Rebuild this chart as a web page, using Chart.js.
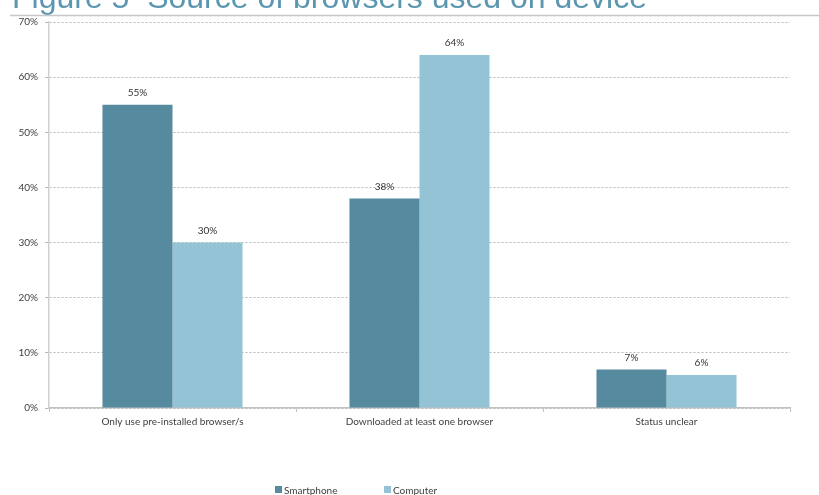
<!DOCTYPE html>
<html>
<head>
<meta charset="utf-8">
<script src="https://cdn.jsdelivr.net/npm/chart.js@4/dist/chart.umd.min.js"></script>
<style>
  html, body { margin: 0; padding: 0; background: #ffffff; overflow: hidden; }
  #wrap { position: relative; width: 819px; height: 495px; }
  canvas { display: block; }
</style>
</head>
<body>
<div id="wrap"><canvas id="c" width="819" height="495"></canvas></div>
<script>
// Source of browsers used on device, share of respondents (%)
const categories = [
  'Only use pre-installed browser/s',
  'Downloaded at least one browser',
  'Status unclear'
];
const smartphone = [55, 38, 7];
const computer = [30, 64, 6];
const seriesNames = ['Smartphone', 'Computer'];
const yTicks = [0, 10, 20, 30, 40, 50, 60, 70];
const titleText = 'Figure 5  Source of browsers used on device';

const labelFont = "Lato, 'Open Sans', sans-serif";
const textColor = '#404040';

// Title across the top with a rule underneath
const titlePlugin = {
  id: 'figureTitle',
  beforeDraw(chart) {
    const ctx = chart.ctx;
    ctx.save();
    ctx.fillStyle = '#5b96b0';
    ctx.font = "32px 'Liberation Sans', Arial, sans-serif";
    ctx.textBaseline = 'alphabetic';
    ctx.textAlign = 'left';
    ctx.fillText(titleText, 12, 8);
    ctx.strokeStyle = '#c8c8c8';
    ctx.lineWidth = 1.5;
    ctx.beginPath();
    ctx.moveTo(10, 15.5);
    ctx.lineTo(chart.width, 15.5);
    ctx.stroke();
    ctx.restore();
  }
};

// Percent labels above every bar
const valueLabels = {
  id: 'valueLabels',
  afterDatasetsDraw(chart) {
    const ctx = chart.ctx;
    ctx.save();
    ctx.font = '10px ' + labelFont;
    ctx.fillStyle = '#333333';
    ctx.textAlign = 'center';
    ctx.textBaseline = 'middle';
    chart.data.datasets.forEach((ds, di) => {
      chart.getDatasetMeta(di).data.forEach((bar, i) => {
        ctx.fillText(ds.data[i] + '%', bar.x, bar.y - 12);
      });
    });
    ctx.restore();
  }
};

// Legend row along the bottom edge
const bottomLegend = {
  id: 'bottomLegend',
  afterDraw(chart) {
    const ctx = chart.ctx;
    ctx.save();
    ctx.font = '10px ' + labelFont;
    ctx.textAlign = 'left';
    ctx.textBaseline = 'alphabetic';
    const starts = [275, 384];
    chart.data.datasets.forEach((ds, di) => {
      const x = starts[di];
      ctx.fillStyle = ds.backgroundColor;
      ctx.fillRect(x, 486, 7, 7);
      ctx.fillStyle = textColor;
      ctx.fillText(ds.label, x + 9, 494);
    });
    ctx.restore();
  }
};

new Chart(document.getElementById('c'), {
  type: 'bar',
  data: {
    labels: categories,
    datasets: [
      { label: seriesNames[0], data: smartphone, backgroundColor: '#568a9f', borderWidth: 0 },
      { label: seriesNames[1], data: computer, backgroundColor: '#93c3d5', borderWidth: 0 }
    ]
  },
  options: {
    responsive: false,
    animation: false,
    layout: { padding: { left: 0, right: 29, top: 22, bottom: 0 } },
    datasets: {
      bar: { categoryPercentage: 0.567, barPercentage: 1.0 }
    },
    plugins: {
      legend: { display: false },
      title: { display: false },
      tooltip: { enabled: false }
    },
    scales: {
      x: {
        offset: true,
        grid: {
          display: true,
          offset: true,
          drawOnChartArea: false,
          drawTicks: true,
          tickLength: 4,
          tickColor: '#c0c0c0',
          tickWidth: 1
        },
        border: { display: true, color: '#c0c0c0', width: 1.5 },
        ticks: {
          color: textColor,
          font: { family: labelFont, size: 10 },
          padding: 4,
          maxRotation: 0,
          autoSkip: false
        },
        afterFit(scale) { scale.height = 87; }
      },
      y: {
        min: 0,
        max: 70,
        afterBuildTicks(scale) { scale.ticks = yTicks.map(v => ({ value: v })); },
        grid: {
          color: '#b8b8b8',
          lineWidth: 1,
          drawTicks: true,
          tickLength: 4,
          tickColor: '#b8b8b8',
          tickBorderDash: []
        },
        border: { display: true, color: '#d0d0d0', width: 1.5, dash: [2, 2] },
        ticks: {
          color: textColor,
          font: { family: labelFont, size: 10 },
          padding: 7,
          callback: v => v + '%'
        },
        afterFit(scale) { scale.width = 49; }
      }
    }
  },
  plugins: [titlePlugin, valueLabels, bottomLegend]
});
</script>
</body>
</html>
